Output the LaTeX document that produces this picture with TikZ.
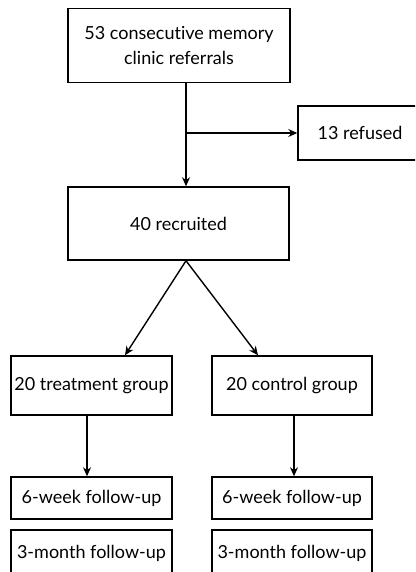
\documentclass[tikz,border=0pt]{standalone}
\usepackage{fontspec}
\setmainfont[Ligatures={NoCommon,NoRare}]{Lato}
\usetikzlibrary{arrows.meta}
\begin{document}
\begin{tikzpicture}[x=1pt,y=-1pt,
  box/.style={draw, line width=1.5pt, rectangle, inner sep=0pt, align=center, font=\fontsize{18}{25}\selectfont},
  arr/.style={line width=1.4pt, -{Stealth[length=9pt,width=8pt]}}]
\clip (0,0) rectangle (415,572);
\fill[white] (0,0) rectangle (415,572);
\node[box, minimum width=222pt, minimum height=74pt] (top) at (179,45.5) {53 consecutive memory\\clinic referrals};
\node[box, minimum width=124pt, minimum height=54pt] (refused) at (360,133) {13 refused};
\node[box, minimum width=221pt, minimum height=73pt] (recr) at (178.5,223.5) {40 recruited};
\node[box, minimum width=161pt, minimum height=59pt] (treat) at (91.5,385.5) {20 treatment group};
\node[box, minimum width=160pt, minimum height=59pt] (ctrl) at (292,385.5) {20 control group};
\node[box, minimum width=161pt, minimum height=42pt] (tw1) at (91.5,498) {6-week follow-up};
\node[box, minimum width=160pt, minimum height=42pt] (cw1) at (292,498) {6-week follow-up};
\node[box, minimum width=161pt, minimum height=46pt] (tm3) at (91.5,553) {3-month follow-up};
\node[box, minimum width=160pt, minimum height=46pt] (cm3) at (292,553) {3-month follow-up};
\coordinate (split) at (186,133);
\coordinate (tx) at (125,0);
\coordinate (cx) at (258,0);
\coordinate (ta) at (87,0);
\coordinate (ca) at (294,0);
\draw[arr] (top.south -| split) -- (recr.north -| split);
\draw[arr] (split) -- (refused.west);
\draw[arr] (recr.south -| split) -- (treat.north -| tx);
\draw[arr] (recr.south -| split) -- (ctrl.north -| cx);
\draw[arr] (treat.south -| ta) -- (tw1.north -| ta);
\draw[arr] (ctrl.south -| ca) -- (cw1.north -| ca);
\end{tikzpicture}
\end{document}
